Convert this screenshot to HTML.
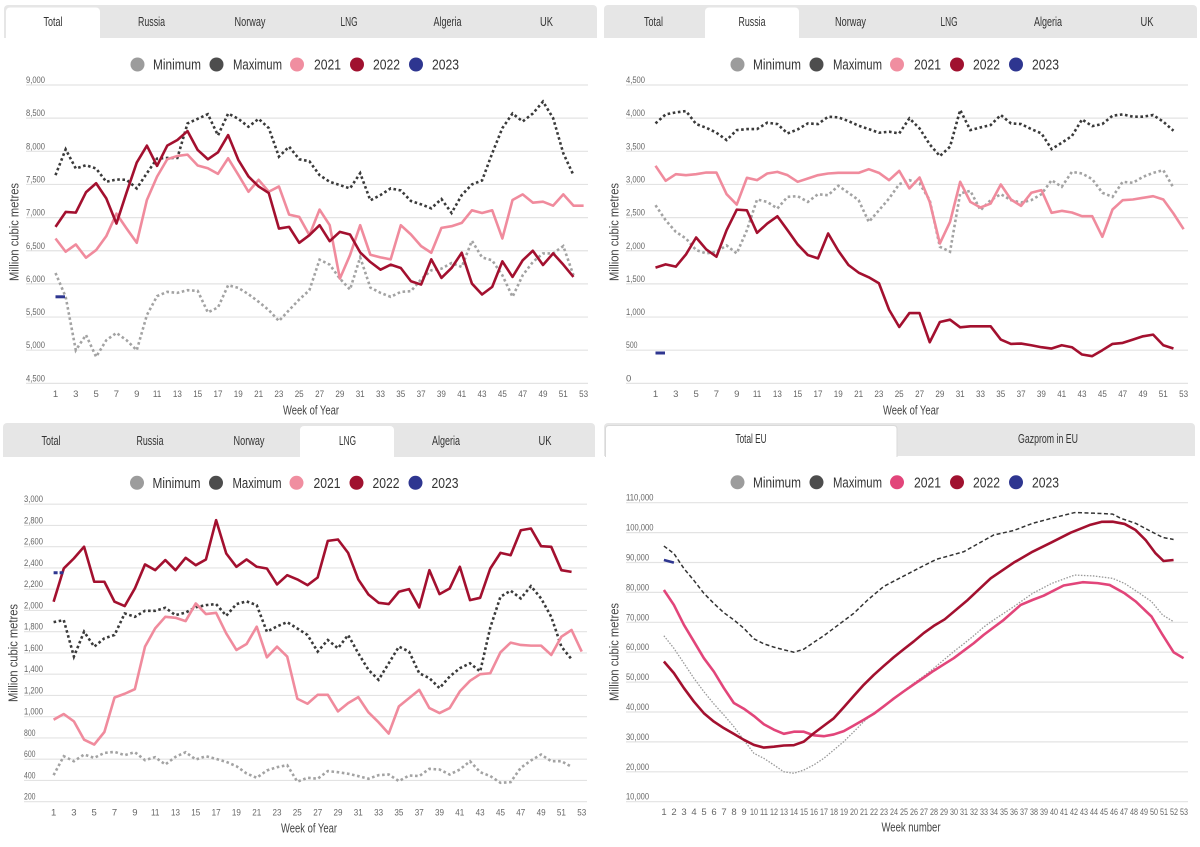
<!DOCTYPE html>
<html><head><meta charset="utf-8">
<style>
html,body{margin:0;padding:0;background:#fff;}
svg{display:block;font-family:"Liberation Sans",sans-serif;}
.yl{font-size:9.5px;fill:#666;}
.xl{font-size:9.5px;fill:#666;text-anchor:middle;}
.tab{font-size:12.5px;fill:#333;text-anchor:middle;}
.lg{font-size:14.5px;fill:#333;}
.at{font-size:13px;fill:#444;text-anchor:middle;}
</style></head><body>
<svg id="s" width="1200" height="847" viewBox="0 0 1200 847" xmlns="http://www.w3.org/2000/svg">
<rect width="1200" height="847" fill="#fff"/>
<!-- TABS TL -->
<rect x="4" y="5" width="593" height="33" rx="4" fill="#e6e6e6"/><rect x="4" y="20" width="593" height="18" fill="#e6e6e6"/>
<rect x="6" y="7.5" width="94" height="31" rx="4" fill="#fff"/><rect x="6" y="20" width="94" height="19" fill="#fff"/>
<g class="tab"><text x="53" y="26" textLength="19">Total</text><text x="151.5" y="26" textLength="27">Russia</text><text x="250" y="26" textLength="31">Norway</text><text x="349" y="26" textLength="17">LNG</text><text x="447.5" y="26" textLength="28">Algeria</text><text x="546.5" y="26" textLength="13">UK</text></g>
<!-- TABS TR -->
<rect x="604" y="5" width="593" height="33" rx="4" fill="#e6e6e6"/><rect x="604" y="20" width="593" height="18" fill="#e6e6e6"/>
<rect x="705" y="7.5" width="94" height="31" rx="4" fill="#fff"/><rect x="705" y="20" width="94" height="19" fill="#fff"/>
<g class="tab"><text x="653.5" y="26" textLength="19">Total</text><text x="752" y="26" textLength="27">Russia</text><text x="850.5" y="26" textLength="31">Norway</text><text x="949" y="26" textLength="17">LNG</text><text x="1048" y="26" textLength="28">Algeria</text><text x="1147" y="26" textLength="13">UK</text></g>
<!-- TABS BL -->
<rect x="3" y="423" width="592" height="34" rx="4" fill="#e6e6e6"/><rect x="3" y="438" width="592" height="19" fill="#e6e6e6"/>
<rect x="300" y="426" width="94" height="31" rx="4" fill="#fff"/><rect x="300" y="438" width="94" height="20" fill="#fff"/>
<g class="tab"><text x="51" y="445" textLength="19">Total</text><text x="150" y="445" textLength="27">Russia</text><text x="249" y="445" textLength="31">Norway</text><text x="347.5" y="445" textLength="17">LNG</text><text x="446" y="445" textLength="28">Algeria</text><text x="545" y="445" textLength="13">UK</text></g>
<!-- TABS BR -->
<rect x="604" y="423" width="591" height="33" rx="4" fill="#e6e6e6"/><rect x="604" y="438" width="591" height="18" fill="#e6e6e6"/>
<path d="M605.5,457 L605.5,429 Q605.5,425.5 609,425.5 L893.5,425.5 Q897,425.5 897,429 L897,457" fill="#fff" stroke="#d9d9d9" stroke-width="1"/>
<g class="tab"><text x="751" y="443" textLength="31">Total EU</text><text x="1048" y="443" textLength="60">Gazprom in EU</text></g>

<!-- LEGENDS -->
<g class="lg">
<circle cx="137.5" cy="64.5" r="7" fill="#9c9c9c"/><text x="153" y="69.5" textLength="48">Minimum</text>
<circle cx="216.5" cy="64.5" r="7" fill="#4d4d4d"/><text x="233" y="69.5" textLength="49">Maximum</text>
<circle cx="297" cy="64.5" r="7" fill="#f08ea0"/><text x="314" y="69.5" textLength="27">2021</text>
<circle cx="357" cy="64.5" r="7" fill="#a0112f"/><text x="373" y="69.5" textLength="27">2022</text>
<circle cx="416" cy="64.5" r="7" fill="#2e3690"/><text x="432" y="69.5" textLength="27">2023</text>
</g>
<g class="lg" transform="translate(600,0)">
<circle cx="137.5" cy="64.5" r="7" fill="#9c9c9c"/><text x="153" y="69.5" textLength="48">Minimum</text>
<circle cx="216.5" cy="64.5" r="7" fill="#4d4d4d"/><text x="233" y="69.5" textLength="49">Maximum</text>
<circle cx="297" cy="64.5" r="7" fill="#f08ea0"/><text x="314" y="69.5" textLength="27">2021</text>
<circle cx="357" cy="64.5" r="7" fill="#a0112f"/><text x="373" y="69.5" textLength="27">2022</text>
<circle cx="416" cy="64.5" r="7" fill="#2e3690"/><text x="432" y="69.5" textLength="27">2023</text>
</g>
<g class="lg" transform="translate(-0.5,418.3)">
<circle cx="137.5" cy="64.5" r="7" fill="#9c9c9c"/><text x="153" y="69.5" textLength="48">Minimum</text>
<circle cx="216.5" cy="64.5" r="7" fill="#4d4d4d"/><text x="233" y="69.5" textLength="49">Maximum</text>
<circle cx="297" cy="64.5" r="7" fill="#f08ea0"/><text x="314" y="69.5" textLength="27">2021</text>
<circle cx="357" cy="64.5" r="7" fill="#a0112f"/><text x="373" y="69.5" textLength="27">2022</text>
<circle cx="416" cy="64.5" r="7" fill="#2e3690"/><text x="432" y="69.5" textLength="27">2023</text>
</g>
<g class="lg" transform="translate(600,417.8)">
<circle cx="137.5" cy="64.5" r="7" fill="#9c9c9c"/><text x="153" y="69.5" textLength="48">Minimum</text>
<circle cx="216.5" cy="64.5" r="7" fill="#4d4d4d"/><text x="233" y="69.5" textLength="49">Maximum</text>
<circle cx="297" cy="64.5" r="7" fill="#e2457a"/><text x="314" y="69.5" textLength="27">2021</text>
<circle cx="357" cy="64.5" r="7" fill="#a0112f"/><text x="373" y="69.5" textLength="27">2022</text>
<circle cx="416" cy="64.5" r="7" fill="#2e3690"/><text x="432" y="69.5" textLength="27">2023</text>
</g>

<g id="grid"></g>

<!-- Y LABELS TL -->
<g class="yl">
<text x="26" y="83" textLength="19">9,000</text><text x="26" y="116.2" textLength="19">8,500</text><text x="26" y="149.3" textLength="19">8,000</text><text x="26" y="182.5" textLength="19">7,500</text><text x="26" y="215.6" textLength="19">7,000</text><text x="26" y="248.8" textLength="19">6,500</text><text x="26" y="281.9" textLength="19">6,000</text><text x="26" y="315.1" textLength="19">5,500</text><text x="26" y="348.2" textLength="19">5,000</text><text x="26" y="381.4" textLength="19">4,500</text>
</g>
<!-- Y LABELS TR -->
<g class="yl">
<text x="626" y="83" textLength="19">4,500</text><text x="626" y="116.2" textLength="19">4,000</text><text x="626" y="149.3" textLength="19">3,500</text><text x="626" y="182.5" textLength="19">3,000</text><text x="626" y="215.6" textLength="19">2,500</text><text x="626" y="248.8" textLength="19">2,000</text><text x="626" y="281.9" textLength="19">1,500</text><text x="626" y="315.1" textLength="19">1,000</text><text x="626" y="348.2" textLength="11.5">500</text><text x="626" y="381.4">0</text>
</g>
<!-- Y LABELS BL -->
<g class="yl">
<text x="24" y="502.2" textLength="19">3,000</text><text x="24" y="523.5" textLength="19">2,800</text><text x="24" y="544.7" textLength="19">2,600</text><text x="24" y="566" textLength="19">2,400</text><text x="24" y="587.2" textLength="19">2,200</text><text x="24" y="608.5" textLength="19">2,000</text><text x="24" y="629.7" textLength="19">1,800</text><text x="24" y="651" textLength="19">1,600</text><text x="24" y="672.2" textLength="19">1,400</text><text x="24" y="693.5" textLength="19">1,200</text><text x="24" y="714.7" textLength="19">1,000</text><text x="24" y="736" textLength="11.5">800</text><text x="24" y="757.2" textLength="11.5">600</text><text x="24" y="778.5" textLength="11.5">400</text><text x="24" y="799.7" textLength="11.5">200</text>
</g>
<!-- Y LABELS BR -->
<g class="yl">
<text x="626" y="500.7" textLength="27.5">110,000</text><text x="626" y="530.6" textLength="27.5">100,000</text><text x="626" y="560.5" textLength="23">90,000</text><text x="626" y="590.4" textLength="23">80,000</text><text x="626" y="620.3" textLength="23">70,000</text><text x="626" y="650.2" textLength="23">60,000</text><text x="626" y="680.1" textLength="23">50,000</text><text x="626" y="710" textLength="23">40,000</text><text x="626" y="739.9" textLength="23">30,000</text><text x="626" y="769.8" textLength="23">20,000</text><text x="626" y="799.7" textLength="23">10,000</text>
</g>

<!-- X LABELS TL -->
<g class="xl">
<text x="55.5" y="397">1</text><text x="75.8" y="397">3</text><text x="96.1" y="397">5</text><text x="116.4" y="397">7</text><text x="136.8" y="397">9</text><text x="157.1" y="397" textLength="8.5">11</text><text x="177.4" y="397" textLength="9">13</text><text x="197.7" y="397" textLength="9">15</text><text x="218" y="397" textLength="9">17</text><text x="238.3" y="397" textLength="9">19</text><text x="258.6" y="397" textLength="9">21</text><text x="278.9" y="397" textLength="9">23</text><text x="299.2" y="397" textLength="9">25</text><text x="319.6" y="397" textLength="9">27</text><text x="339.9" y="397" textLength="9">29</text><text x="360.2" y="397" textLength="9">31</text><text x="380.5" y="397" textLength="9">33</text><text x="400.8" y="397" textLength="9">35</text><text x="421.1" y="397" textLength="9">37</text><text x="441.4" y="397" textLength="9">39</text><text x="461.7" y="397" textLength="9">41</text><text x="482" y="397" textLength="9">43</text><text x="502.4" y="397" textLength="9">45</text><text x="522.7" y="397" textLength="9">47</text><text x="543" y="397" textLength="9">49</text><text x="563.3" y="397" textLength="9">51</text><text x="583.6" y="397" textLength="9">53</text>
</g>
<g class="xl" transform="translate(600,0)">
<text x="55.5" y="397">1</text><text x="75.8" y="397">3</text><text x="96.1" y="397">5</text><text x="116.4" y="397">7</text><text x="136.8" y="397">9</text><text x="157.1" y="397" textLength="8.5">11</text><text x="177.4" y="397" textLength="9">13</text><text x="197.7" y="397" textLength="9">15</text><text x="218" y="397" textLength="9">17</text><text x="238.3" y="397" textLength="9">19</text><text x="258.6" y="397" textLength="9">21</text><text x="278.9" y="397" textLength="9">23</text><text x="299.2" y="397" textLength="9">25</text><text x="319.6" y="397" textLength="9">27</text><text x="339.9" y="397" textLength="9">29</text><text x="360.2" y="397" textLength="9">31</text><text x="380.5" y="397" textLength="9">33</text><text x="400.8" y="397" textLength="9">35</text><text x="421.1" y="397" textLength="9">37</text><text x="441.4" y="397" textLength="9">39</text><text x="461.7" y="397" textLength="9">41</text><text x="482" y="397" textLength="9">43</text><text x="502.4" y="397" textLength="9">45</text><text x="522.7" y="397" textLength="9">47</text><text x="543" y="397" textLength="9">49</text><text x="563.3" y="397" textLength="9">51</text><text x="583.6" y="397" textLength="9">53</text>
</g>
<g class="xl" transform="translate(-1.9,418.5)">
<text x="55.5" y="397">1</text><text x="75.8" y="397">3</text><text x="96.1" y="397">5</text><text x="116.4" y="397">7</text><text x="136.8" y="397">9</text><text x="157.1" y="397" textLength="8.5">11</text><text x="177.4" y="397" textLength="9">13</text><text x="197.7" y="397" textLength="9">15</text><text x="218" y="397" textLength="9">17</text><text x="238.3" y="397" textLength="9">19</text><text x="258.6" y="397" textLength="9">21</text><text x="278.9" y="397" textLength="9">23</text><text x="299.2" y="397" textLength="9">25</text><text x="319.6" y="397" textLength="9">27</text><text x="339.9" y="397" textLength="9">29</text><text x="360.2" y="397" textLength="9">31</text><text x="380.5" y="397" textLength="9">33</text><text x="400.8" y="397" textLength="9">35</text><text x="421.1" y="397" textLength="9">37</text><text x="441.4" y="397" textLength="9">39</text><text x="461.7" y="397" textLength="9">41</text><text x="482" y="397" textLength="9">43</text><text x="502.4" y="397" textLength="9">45</text><text x="522.7" y="397" textLength="9">47</text><text x="543" y="397" textLength="9">49</text><text x="563.3" y="397" textLength="9">51</text><text x="583.6" y="397" textLength="9">53</text>
</g>
<!-- X LABELS BR -->
<g class="xl">
<text x="664" y="815">1</text><text x="674" y="815">2</text><text x="684" y="815">3</text><text x="694" y="815">4</text><text x="704" y="815">5</text><text x="714" y="815">6</text><text x="724" y="815">7</text><text x="734" y="815">8</text><text x="744" y="815">9</text><text x="754" y="815" textLength="8">10</text><text x="764" y="815" textLength="8">11</text><text x="774" y="815" textLength="8">12</text><text x="784" y="815" textLength="8">13</text><text x="794" y="815" textLength="8">14</text><text x="804" y="815" textLength="8">15</text><text x="814" y="815" textLength="8">16</text><text x="824" y="815" textLength="8">17</text><text x="834" y="815" textLength="8">18</text><text x="844" y="815" textLength="8">19</text><text x="854" y="815" textLength="8">20</text><text x="864" y="815" textLength="8">21</text><text x="874" y="815" textLength="8">22</text><text x="884" y="815" textLength="8">23</text><text x="894" y="815" textLength="8">24</text><text x="904" y="815" textLength="8">25</text><text x="914" y="815" textLength="8">26</text><text x="924" y="815" textLength="8">27</text><text x="934" y="815" textLength="8">28</text><text x="944" y="815" textLength="8">29</text><text x="954" y="815" textLength="8">30</text><text x="964" y="815" textLength="8">31</text><text x="974" y="815" textLength="8">32</text><text x="984" y="815" textLength="8">33</text><text x="994" y="815" textLength="8">34</text><text x="1004" y="815" textLength="8">35</text><text x="1014" y="815" textLength="8">36</text><text x="1024" y="815" textLength="8">37</text><text x="1034" y="815" textLength="8">38</text><text x="1044" y="815" textLength="8">39</text><text x="1054" y="815" textLength="8">40</text><text x="1064" y="815" textLength="8">41</text><text x="1074" y="815" textLength="8">42</text><text x="1084" y="815" textLength="8">43</text><text x="1094" y="815" textLength="8">44</text><text x="1104" y="815" textLength="8">45</text><text x="1114" y="815" textLength="8">46</text><text x="1124" y="815" textLength="8">47</text><text x="1134" y="815" textLength="8">48</text><text x="1144" y="815" textLength="8">49</text><text x="1154" y="815" textLength="8">50</text><text x="1164" y="815" textLength="8">51</text><text x="1174" y="815" textLength="8">52</text><text x="1184" y="815" textLength="8">53</text>
</g>

<!-- AXIS TITLES -->
<g class="at">
<text x="311" y="414.5" textLength="56">Week of Year</text>
<text x="911" y="414.5" textLength="56">Week of Year</text>
<text x="309" y="832.5" textLength="56">Week of Year</text>
<text x="911" y="831.5" textLength="59">Week number</text>
<text transform="translate(18.5,232) rotate(-90)" textLength="98">Million cubic metres</text>
<text transform="translate(618.5,232) rotate(-90)" textLength="98">Million cubic metres</text>
<text transform="translate(17.5,653) rotate(-90)" textLength="98">Million cubic metres</text>
<text transform="translate(618.5,652) rotate(-90)" textLength="98">Million cubic metres</text>
</g>

<g id="series"></g>
</svg>
<script>
(function(){
var tl=document.querySelectorAll('[textLength]');
for(var i=0;i<tl.length;i++)tl[i].setAttribute('lengthAdjust','spacingAndGlyphs');
var NS='http://www.w3.org/2000/svg';
var G=document.getElementById('grid'), SR=document.getElementById('series');
function add(par,tag,a){var e=document.createElementNS(NS,tag);for(var k in a)e.setAttribute(k,a[k]);par.appendChild(e);return e;}
var P={
 TL:{xf:function(w){return 55.5+(w-1)*10.156;},yf:function(v){return 383.35-(v-4500)*0.0663;},v0:4500,v1:9000,dv:500,gx0:26,gx1:588},
 TR:{xf:function(w){return 655.5+(w-1)*10.156;},yf:function(v){return 383.35-v*0.0663;},v0:0,v1:4500,dv:500,gx0:626,gx1:1188},
 BL:{xf:function(w){return 53.6+(w-1)*10.156;},yf:function(v){return 801.7-(v-200)*0.10625;},v0:200,v1:3000,dv:200,gx0:24,gx1:587},
 BR:{xf:function(w){return 663.9+(w-1)*9.9935;},yf:function(v){return 801.7-(v-10000)*0.00299;},v0:10000,v1:110000,dv:10000,gx0:626,gx1:1188}
};
for(var k in P){var p=P[k];for(var v=p.v0;v<=p.v1+1e-6;v+=p.dv){var y=p.yf(v).toFixed(2);add(G,'line',{x1:p.gx0,x2:p.gx1,y1:y,y2:y,stroke:'#e3e3e3','stroke-width':1.2});}}
function ser(p,arr,st){var pts=arr.map(function(v,i){return p.xf(i+1).toFixed(2)+','+p.yf(v).toFixed(2);}).join(' ');var a={points:pts,fill:'none'};for(var k in st)a[k]=st[k];add(SR,'polyline',a);}
function serp(p,arr,st){var pts=arr.map(function(d){return p.xf(d[0]).toFixed(2)+','+p.yf(d[1]).toFixed(2);}).join(' ');var a={points:pts,fill:'none'};for(var k in st)a[k]=st[k];add(SR,'polyline',a);}
var MAX={stroke:'#3a3a3a','stroke-width':2.6,'stroke-dasharray':'2.6,2.6'};
var MIN={stroke:'#a3a3a3','stroke-width':2.6,'stroke-dasharray':'2.6,2.6'};
var Y21={stroke:'#f08b9d','stroke-width':2.6,'stroke-linejoin':'round'};
var Y22={stroke:'#a3102f','stroke-width':2.6,'stroke-linejoin':'round'};
// TL
ser(P.TL,[6165,5805,5000,5230,4900,5150,5260,5150,5000,5530,5815,5880,5865,5905,5895,5570,5645,5980,5940,5845,5730,5605,5440,5605,5765,5905,6365,6290,6080,5915,6400,5945,5865,5805,5880,5890,6070,6205,6230,6315,6255,6650,6400,6355,6130,5805,6130,6330,6460,6460,6570,6130],MIN);
ser(P.TL,[7640,8030,7740,7790,7740,7540,7575,7570,7440,7670,7890,7900,7900,8420,8490,8560,8240,8570,8490,8370,8490,8350,7920,8070,7880,7850,7640,7540,7490,7440,7670,7260,7340,7440,7410,7250,7200,7140,7280,7070,7340,7500,7560,7970,8350,8570,8450,8570,8750,8500,7970,7640],MAX);
ser(P.TL,[6685,6485,6595,6395,6510,6720,7060,6835,6620,7266,7618,7880,7930,7950,7785,7745,7660,7895,7645,7390,7570,7390,7470,7045,7010,6735,7120,6885,6080,6435,6885,6440,6400,6370,6885,6745,6570,6470,6845,6870,6920,7110,7070,7110,6685,7266,7350,7225,7240,7180,7350,7180,7180],Y21);
ser(P.TL,[6860,7085,7075,7382,7518,7290,6910,7380,7830,8085,7780,8085,8170,8305,8020,7880,7985,8245,7870,7620,7470,7370,6835,6860,6620,6735,6885,6645,6785,6745,6475,6330,6215,6290,6240,6040,5990,6370,6090,6240,6470,6005,5840,5955,6340,6105,6355,6500,6285,6460,6290,6105],Y22);
add(SR,'line',{x1:55.5,x2:65,y1:296.8,y2:296.8,stroke:'#2e3690','stroke-width':3});
// TR
ser(P.TR,[2687,2460,2285,2185,2010,1960,1985,2080,1960,2310,2773,2737,2637,2813,2823,2737,2853,2838,2979,2874,2763,2435,2610,2788,3004,3065,3014,2763,2060,1985,2864,2904,2612,2763,2853,2763,2727,2763,2853,3065,2964,3190,3165,3080,2874,2813,3040,3025,3115,3175,3215,2949],MIN);
ser(P.TR,[3921,4057,4087,4107,3911,3855,3780,3669,3820,3835,3835,3931,3911,3770,3830,3921,3911,4022,4012,3956,3886,3835,3780,3795,3770,3997,3845,3604,3428,3569,4123,3820,3860,3896,4047,3921,3911,3835,3770,3533,3629,3730,3981,3880,3911,4037,4057,4022,4022,4047,3946,3810],MAX);
ser(P.TR,[3281,3055,3155,3140,3155,3180,3180,2853,2697,3100,3065,3165,3190,3140,3040,3090,3140,3165,3175,3175,3175,3230,3175,3065,3205,2940,3105,2737,2110,2435,3040,2737,2652,2712,2999,2773,2677,2874,2914,2572,2602,2577,2521,2521,2210,2622,2763,2773,2798,2823,2773,2562,2325],Y21);
ser(P.TR,[1745,1795,1760,1945,2200,2020,1910,2310,2620,2610,2270,2410,2520,2310,2095,1935,1885,2260,2000,1785,1670,1600,1510,1110,850,1060,1060,620,925,960,845,860,860,860,660,595,600,575,545,525,575,545,435,410,500,595,610,660,710,735,575,525],Y22);
add(SR,'line',{x1:655.5,x2:665,y1:353,y2:353,stroke:'#2e3690','stroke-width':3});
// BL
ser(P.BL,[450,628,581,644,613,659,669,638,666,591,619,550,622,666,597,628,603,575,534,466,425,494,525,544,388,425,416,488,478,463,441,416,450,456,394,447,441,509,503,456,503,581,478,441,378,384,519,588,644,581,581,528],MIN);
ser(P.BL,[1890,1909,1566,1800,1659,1738,1769,1972,1940,1997,1997,2025,1956,1980,2030,2050,2060,1950,2060,2085,2050,1800,1850,1890,1830,1769,1613,1722,1644,1769,1597,1441,1347,1503,1659,1613,1409,1363,1269,1378,1456,1503,1425,1840,2129,2186,2113,2229,2113,1940,1659,1541],MAX);
ser(P.BL,[972,1025,956,784,738,856,1181,1216,1259,1659,1831,1940,1931,1900,2066,1966,1978,1784,1628,1684,1847,1559,1659,1566,1169,1122,1206,1206,1050,1128,1184,1041,947,841,1097,1175,1253,1081,1034,1081,1238,1338,1400,1409,1606,1697,1675,1669,1669,1581,1753,1816,1613],Y21);
ser(P.BL,[2082,2395,2490,2600,2270,2270,2082,2041,2207,2433,2379,2474,2379,2495,2426,2480,2850,2536,2411,2480,2411,2395,2245,2332,2292,2238,2310,2655,2668,2542,2292,2150,2072,2060,2176,2201,2028,2379,2154,2207,2411,2097,2119,2395,2542,2520,2755,2771,2605,2599,2379,2363],Y22);
add(SR,'line',{x1:53.6,x2:63.5,y1:572.8,y2:572.8,stroke:'#2e3690','stroke-width':3,'stroke-dasharray':'4,2'});
// BR
serp(P.BR,[[1,65500],[2,61300],[3,56300],[4,51300],[5,46800],[6,42700],[7,39000],[8,35100],[9,30600],[10,26200],[11,24500],[12,22300],[13,20000],[14,19500],[15,20600],[16,22300],[17,24500],[18,27300],[19,30100],[20,33400],[21,36800],[22,39600],[23,42000],[24,44600],[25,47100],[26,49600],[27,52000],[28,54600],[29,57400],[30,60200],[31,62800],[32,65500],[33,68400],[34,70800],[36,75200],[37.9,79700],[39.8,83000],[42.1,85800],[44,85500],[45.9,84700],[47.1,83000],[48.6,79700],[49.8,76900],[50.9,72450],[52,70200]],{stroke:'#999','stroke-width':1.3,'stroke-dasharray':'1.5,1.5'});
serp(P.BR,[[1,95500],[2,93000],[3,88000],[4,84000],[5,79700],[6,76300],[7,73200],[8,70800],[9,68000],[10,64500],[11,62800],[12,61700],[13,60800],[14,60000],[15,61000],[16,63300],[17,65500],[18,68000],[20,73000],[21.4,77500],[23,82000],[24.9,85300],[26.8,88600],[28.3,91100],[29.5,92200],[31,93600],[32.5,96400],[34,99200],[36,100700],[37.9,103100],[39.8,104800],[42.1,106700],[44,106500],[45.9,106200],[46.7,104800],[48.2,103100],[49.8,100300],[50.9,98400],[52,97700]],{stroke:'#333','stroke-width':1.5,'stroke-dasharray':'4,2.5'});
serp(P.BR,[[1,80800],[2,75800],[3,69150],[4,63600],[5,58000],[6,53500],[7,48000],[8,43000],[9,41100],[10,38700],[11,35900],[12,34100],[13,32700],[14,33400],[15,33400],[16,32200],[17,31900],[18,32500],[19,33600],[20,35500],[21,37400],[22,39400],[23,41900],[24,44500],[25,46900],[26,49200],[27,51500],[28,53800],[29,55900],[30,58000],[31,60500],[32,63000],[33,65800],[34,68300],[35,70800],[36.7,75800],[37.9,77500],[39,78900],[41,82300],[42.9,83400],[44.4,83100],[45.6,82500],[47.1,79700],[48.2,77000],[49.8,71900],[50.9,65800],[52,60000],[53,58000]],{stroke:'#e2457a','stroke-width':2.6,'stroke-linejoin':'round'});
serp(P.BR,[[1,56900],[2,53000],[3,48000],[4,43500],[5,39600],[6,36800],[7,34600],[8,32700],[9,30700],[10,29000],[11,28100],[12,28400],[13,28800],[14,28900],[15,30100],[16,32900],[17,35400],[18,37900],[19,41600],[20,45400],[21,49100],[22,52400],[23,55400],[24,58300],[25,61000],[26,63600],[27,66400],[28,68800],[29.1,71000],[31.4,77460],[33.7,84700],[36,89940],[37.9,93620],[39.8,96740],[41.7,99970],[43.6,102535],[44.8,103600],[45.9,103650],[47.1,102900],[48.2,100860],[49.2,97520],[50.2,93060],[51,90500],[52,90840]],{stroke:'#a3102f','stroke-width':2.6,'stroke-linejoin':'round'});
serp(P.BR,[[1,90840],[2,89940]],{stroke:'#2e3690','stroke-width':2.6});
})();
</script>
</body></html>
